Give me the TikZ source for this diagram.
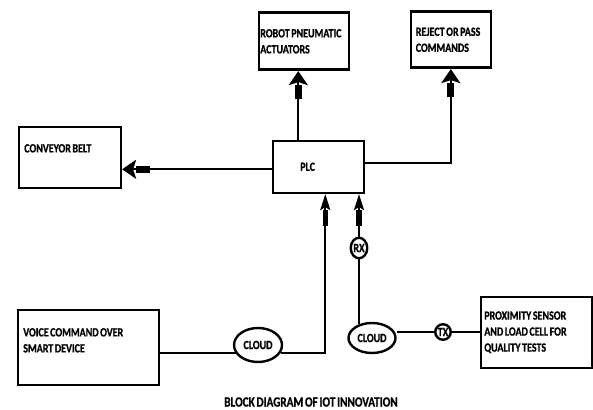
\documentclass[tikz,border=0pt]{standalone}
\usepackage{fontspec}
\setmainfont{Carlito}[FakeStretch=0.8, WordSpace=0.7, BoldFeatures={FakeBold=0.8}]
\usetikzlibrary{arrows.meta,shapes.geometric,calc}
\newcommand{\drop}[1]{\rule[-#1]{0pt}{#1}}

\begin{document}
\begin{tikzpicture}[
  x=1pt, y=-1pt,
  font=\fontsize{12.5}{16}\selectfont\bfseries,
  box/.style={draw, line width=2.6pt, anchor=north west, align=flush left, inner ysep=0pt, text width=#1},
  oval/.style={draw, ellipse, line width=2.4pt, inner sep=0pt},
  wire/.style={line width=2.2pt},
  feed/.style={wire, -{Rectangle[length=14pt,width=7pt] Stealth[length=14pt 0 0,width=19pt 0 0,inset=3pt]}},
  thin feed/.style={wire, -{Rectangle[length=16pt,width=5.5pt] Stealth[length=16pt 0 0,width=10pt 0 0,inset=3pt]}},
]
\useasboundingbox (0,0) rectangle (593,409);

% ------------------------------------------------------------ outputs
\node[box=87pt, inner xsep=1.5pt, minimum height=57pt] (robot) at (257.5,11.5) {%
  ROBOT PNEUMATIC\\ACTUATORS};
\node[box=70pt, inner xsep=5pt, minimum height=56pt] (reject) at (409.5,10.5) {%
  REJECT OR PASS\\COMMANDS};
\node[box=91pt, inner xsep=5.5pt, minimum height=61pt] (conv) at (17.5,125.5) {%
  CONVEYOR BELT\drop{18pt}};

% ------------------------------------------------------------ controller
\node[box=36pt, inner xsep=27.5pt, minimum height=52pt] (plc) at (271.5,139.5) {PLC};

% ------------------------------------------------------------ inputs
\node[box=130pt, inner xsep=5.5pt, minimum height=75pt] (voice) at (16.5,308.5) {%
  VOICE COMMAND OVER\\SMART DEVICE\drop{14pt}};
\node[box=104pt, inner xsep=3.5pt, minimum height=71pt] (prox) at (479.5,295.5) {%
  PROXIMITY SENSOR\\AND LOAD CELL FOR\\QUALITY TESTS};

\node[oval, minimum width=48pt, minimum height=34pt] (cloud1) at (258,345) {CLOUD};
\node[oval, minimum width=47pt, minimum height=30pt] (cloud2) at (372,338) {CLOUD};
\node[oval, minimum width=16.5pt, minimum height=20.5pt] (rx) at (359,248) {RX};
\node[oval, minimum width=15.5pt, minimum height=15.5pt] (tx) at (443,332) {TX};

\node[font=\fontsize{14}{16}\selectfont\bfseries] (title) at (311,402) {BLOCK DIAGRAM OF IOT INNOVATION};

% ------------------------------------------------------------ links
\coordinate (plcw) at ($(plc.west)+(0,2.5)$);
\coordinate (plcn) at ($(plc.north)+(-20,0)$);
\coordinate (plce) at ($(plc.east)+(0,-3.5)$);
\coordinate (in1) at ($(plc.south)+(7,0)$);

\draw[feed] (plcw) -- (plcw -| conv.east);
\draw[feed] (plcn) -- (plcn |- robot.south);
\draw[feed] (plce) -| (reject.south);

% voice command path
\draw[wire] (voice.east |- cloud1.200) -- (cloud1.200);
\draw[thin feed] (cloud1.340) -| (in1);

% sensor path
\draw[wire] (prox.west |- tx.east) -- (tx.east);
\draw[wire] (tx.west) -- (tx.west -| cloud2.east);
\draw[wire] (rx.south) -- (rx.south |- cloud2.130);
\draw[thin feed] (rx.north) -- (rx.north |- plc.south);

\end{tikzpicture}
\end{document}
